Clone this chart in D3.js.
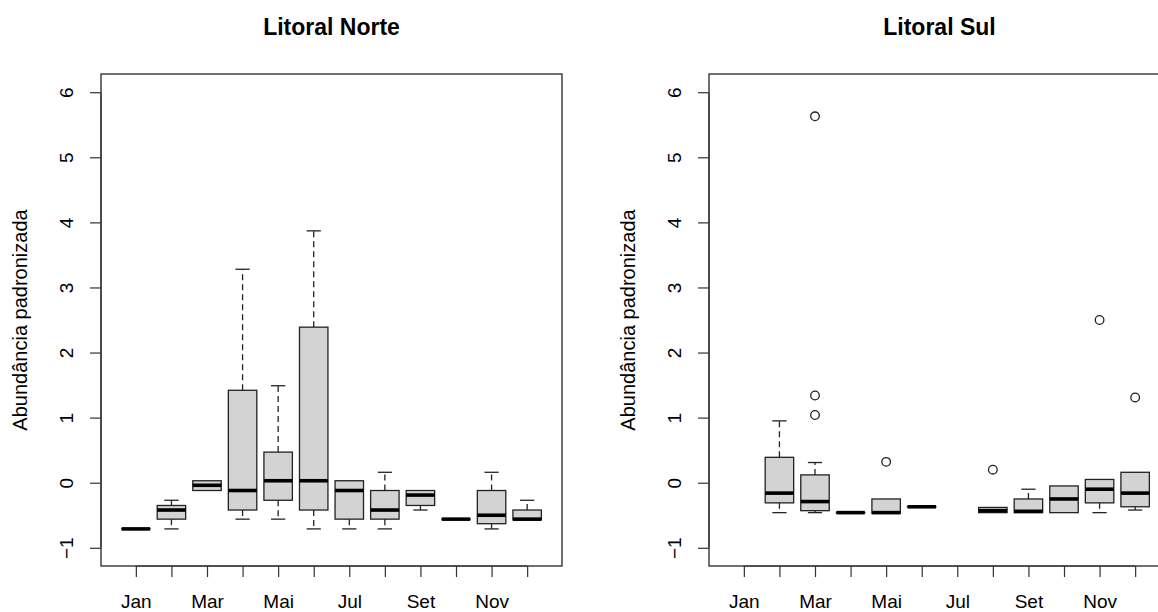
<!DOCTYPE html>
<html>
<head>
<meta charset="utf-8">
<script src="https://cdn.jsdelivr.net/npm/d3@7"></script>
<style>
  body { margin: 0; background: #fff; }
  svg { display: block; font-family: "Liberation Sans", Arial, sans-serif; }
</style>
</head>
<body>
<svg id="chart" width="1158" height="612"></svg>
<script>
// month labels (R drops every second one because they overlap)
const months = ["Jan", "Fev", "Mar", "Abr", "Mai", "Jun", "Jul", "Ago", "Set", "Out", "Nov", "Dez"];
const yTicks = [-1, 0, 1, 2, 3, 4, 5, 6];

// Litoral Norte - boxplot stats per month
const norteLow  = [-0.71, -0.71, -0.12, -0.56, -0.56, -0.71, -0.71, -0.71, -0.42, -0.56, -0.71, -0.57];
const norteQ1   = [-0.71, -0.56, -0.12, -0.42, -0.27, -0.42, -0.56, -0.56, -0.35, -0.56, -0.63, -0.57];
const norteMed  = [-0.71, -0.42, -0.04, -0.12,  0.03,  0.03, -0.12, -0.42, -0.19, -0.56, -0.50, -0.56];
const norteQ3   = [-0.71, -0.35,  0.03,  1.42,  0.47,  2.39,  0.03, -0.12, -0.12, -0.56, -0.12, -0.42];
const norteHigh = [-0.71, -0.27,  0.03,  3.28,  1.49,  3.87,  0.03,  0.16, -0.12, -0.56,  0.16, -0.27];
const norteOut  = [];

// Litoral Sul - null where there is no data
const sulLow  = [null, -0.46, -0.46, -0.46, -0.47, -0.37, null, -0.46, -0.46, -0.46, -0.46, -0.42];
const sulQ1   = [null, -0.31, -0.43, -0.46, -0.47, -0.37, null, -0.46, -0.46, -0.46, -0.31, -0.37];
const sulMed  = [null, -0.16, -0.29, -0.46, -0.46, -0.37, null, -0.43, -0.44, -0.25, -0.10, -0.16];
const sulQ3   = [null,  0.39,  0.12, -0.46, -0.25, -0.37, null, -0.38, -0.25, -0.05,  0.05,  0.16];
const sulHigh = [null,  0.95,  0.31, -0.46, -0.25, -0.37, null, -0.38, -0.10, -0.05,  0.05,  0.16];
const sulOut  = [[3, 5.63], [3, 1.34], [3, 1.04], [5, 0.32], [8, 0.20], [11, 2.50], [12, 1.31]];

const svg = d3.select("#chart");

const plotTop = 74, plotBottom = 566, plotWidth = 461;
const boxWex = 0.8;

function drawPanel(left, title, low, q1, med, q3, high, outliers) {
    const x = d3.scaleLinear().domain([0.02, 12.98]).range([left, left + plotWidth]);
    const y = d3.scaleLinear().domain([-1.28, 6.28]).range([plotBottom, plotTop]);
    const g = svg.append("g");

    // title
    g.append("text")
        .attr("x", left + plotWidth / 2)
        .attr("y", 35)
        .attr("text-anchor", "middle")
        .attr("font-size", 23)
        .attr("font-weight", "bold")
        .text(title);

    // y axis
    const yAxis = g.append("g")
        .attr("transform", `translate(${left},0)`)
        .call(d3.axisLeft(y).tickValues(yTicks).tickSize(11).tickSizeOuter(0).tickFormat(d3.format("d")));
    yAxis.select(".domain").attr("stroke", "#333").attr("stroke-width", 1.2)
        .attr("d", `M0,${y(-1)}V${y(6)}`);
    yAxis.selectAll(".tick line").attr("stroke", "#333").attr("stroke-width", 1.2);
    yAxis.selectAll(".tick text")
        .attr("font-size", 19)
        .attr("fill", "#000")
        .attr("font-family", "Liberation Sans, Arial, sans-serif")
        .attr("text-anchor", "middle")
        .attr("dy", null)
        .attr("x", null)
        .attr("transform", "translate(-28,0) rotate(-90)");

    // x axis
    const xAxis = g.append("g")
        .attr("transform", `translate(0,${plotBottom})`)
        .call(d3.axisBottom(x).tickValues(d3.range(1, 13)).tickSize(11).tickSizeOuter(0)
            .tickFormat((d, i) => i % 2 === 0 ? months[i] : ""));
    xAxis.select(".domain").attr("stroke", "#333").attr("stroke-width", 1.2)
        .attr("d", `M${x(1)},0H${x(12)}`);
    xAxis.selectAll(".tick line").attr("stroke", "#333").attr("stroke-width", 1.2);
    xAxis.selectAll(".tick text")
        .attr("font-size", 19)
        .attr("fill", "#000")
        .attr("font-family", "Liberation Sans, Arial, sans-serif")
        .attr("dy", null)
        .attr("y", 42);

    // y axis title
    g.append("text")
        .attr("transform", `translate(${left - 74},${(plotTop + plotBottom) / 2}) rotate(-90)`)
        .attr("text-anchor", "middle")
        .attr("font-size", 20)
        .text("Abundância padronizada");

    // boxes
    const halfBox = x(boxWex / 2) - x(0);
    const halfCap = halfBox / 2;
    months.forEach((m, i) => {
        if (med[i] === null) return;
        const cx = x(i + 1);

        // whiskers
        [[q3[i], high[i]], [q1[i], low[i]]].forEach(([a, b]) => {
            if (a === b) return;
            g.append("line")
                .attr("x1", cx).attr("x2", cx)
                .attr("y1", y(a)).attr("y2", y(b))
                .attr("stroke", "#222").attr("stroke-width", 1.3)
                .attr("stroke-dasharray", "6,4");
            g.append("line")
                .attr("x1", cx - halfCap).attr("x2", cx + halfCap)
                .attr("y1", y(b)).attr("y2", y(b))
                .attr("stroke", "#222").attr("stroke-width", 1.3);
        });

        g.append("rect")
            .attr("x", cx - halfBox)
            .attr("y", y(q3[i]))
            .attr("width", halfBox * 2)
            .attr("height", Math.max(y(q1[i]) - y(q3[i]), 0.01))
            .attr("fill", "#d3d3d3")
            .attr("stroke", "#222")
            .attr("stroke-width", 1.3);

        g.append("line")
            .attr("x1", cx - halfBox).attr("x2", cx + halfBox)
            .attr("y1", y(med[i])).attr("y2", y(med[i]))
            .attr("stroke", "#000").attr("stroke-width", 3.6);
    });

    // outliers
    g.selectAll(null)
        .data(outliers)
        .enter().append("circle")
        .attr("cx", d => x(d[0]))
        .attr("cy", d => y(d[1]))
        .attr("r", 4.3)
        .attr("fill", "none")
        .attr("stroke", "#222")
        .attr("stroke-width", 1.3);

    // frame
    g.append("rect")
        .attr("x", left).attr("y", plotTop)
        .attr("width", plotWidth).attr("height", plotBottom - plotTop)
        .attr("fill", "none")
        .attr("stroke", "#333")
        .attr("stroke-width", 1.4);
}

drawPanel(101, "Litoral Norte", norteLow, norteQ1, norteMed, norteQ3, norteHigh, norteOut);
drawPanel(709, "Litoral Sul", sulLow, sulQ1, sulMed, sulQ3, sulHigh, sulOut);
</script>
</body>
</html>
